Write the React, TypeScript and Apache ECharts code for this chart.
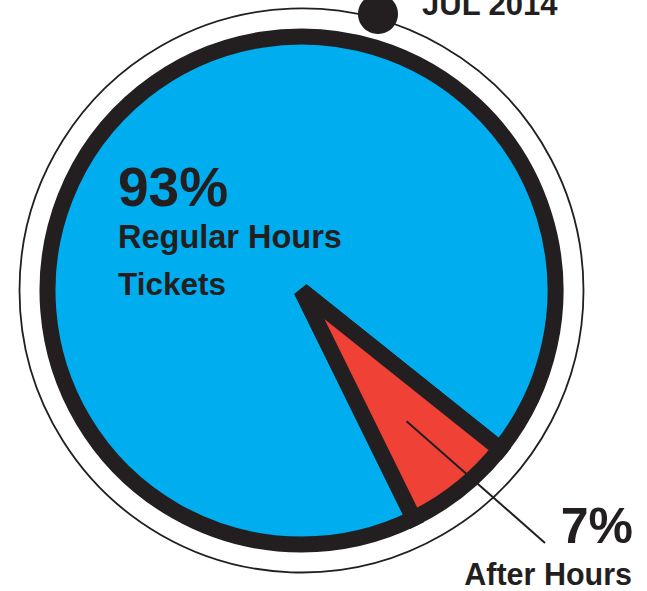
import React, { useEffect, useRef } from "react";
import * as echarts from "echarts";

const categories = ["Regular Hours Tickets", "After Hours"];
const values = [93, 7];
const sliceColors = ["#00ADEE", "#EF4136"];
const dateLabel = "JUL 2014";

const INK = "#231F20";
const FONT = "'Liberation Sans', Arial, sans-serif";

export default function App() {
  const ref = useRef<HTMLDivElement>(null);

  useEffect(() => {
    if (!ref.current) return;
    const chart = echarts.init(ref.current, null, { renderer: "svg" });
    const cx = 301.5;
    const cy = 290.5;
    const R = 254;
    const total = values.reduce((a, b) => a + b, 0);
    // small slice centred on a bisector ~51deg below east
    const bis = -51.2;
    const startAngle = bis - (values[1] / total) * 180;

    const midDeg = startAngle + (values[1] / total) * 180;
    const midRad = (midDeg * Math.PI) / 180;
    const lx1 = cx + Math.cos(midRad) * R * 0.66;
    const ly1 = cy - Math.sin(midRad) * R * 0.66;

    chart.setOption({
      animation: false,
      series: [
        {
          type: "pie",
          center: [cx, cy],
          radius: [0, R],
          startAngle,
          clockwise: true,
          silent: true,
          label: { show: false },
          labelLine: { show: false },
          emphasis: { disabled: true },
          itemStyle: {
            borderColor: INK,
            borderWidth: 16,
            borderJoin: "miter",
          },
          data: categories.map((name, i) => ({
            name,
            value: values[i],
            itemStyle: { color: sliceColors[i] },
          })),
        },
      ],
      graphic: [
        {
          type: "circle",
          shape: { cx, cy, r: 282 },
          style: { fill: "none", stroke: INK, lineWidth: 1.8 },
          z: 1,
        },
        {
          type: "circle",
          shape: { cx: 378, cy: 14, r: 20 },
          style: { fill: INK },
          z: 2,
        },
        {
          type: "text",
          x: 422,
          y: 4,
          style: {
            text: dateLabel,
            font: `bold 31px ${FONT}`,
            fill: INK,
            textAlign: "left",
            textVerticalAlign: "middle",
          },
        },
        {
          type: "text",
          x: 118,
          y: 187,
          z: 10,
          style: {
            text: `${values[0]}%`,
            font: `bold 55px ${FONT}`,
            fill: INK,
            textAlign: "left",
            textVerticalAlign: "middle",
          },
        },
        {
          type: "text",
          x: 118,
          y: 236.5,
          z: 10,
          style: {
            text: "Regular Hours",
            font: `bold 32.5px ${FONT}`,
            fill: INK,
            textAlign: "left",
            textVerticalAlign: "middle",
          },
        },
        {
          type: "text",
          x: 118,
          y: 283.5,
          z: 10,
          style: {
            text: "Tickets",
            font: `bold 31.5px ${FONT}`,
            fill: INK,
            textAlign: "left",
            textVerticalAlign: "middle",
          },
        },
        {
          type: "line",
          z: 10,
          shape: { x1: lx1, y1: ly1, x2: 545, y2: 543 },
          style: { stroke: INK, lineWidth: 2 },
        },
        {
          type: "text",
          x: 633,
          y: 525.5,
          z: 10,
          style: {
            text: `${values[1]}%`,
            font: `bold 50px ${FONT}`,
            fill: INK,
            textAlign: "right",
            textVerticalAlign: "middle",
          },
        },
        {
          type: "text",
          x: 632,
          y: 574,
          z: 10,
          style: {
            text: categories[1],
            font: `bold 30.5px ${FONT}`,
            fill: INK,
            textAlign: "right",
            textVerticalAlign: "middle",
          },
        },
      ],
    });
    return () => chart.dispose();
  }, []);

  return (
    <div
      ref={ref}
      style={{
        position: "fixed",
        left: 0,
        top: 0,
        width: 647,
        height: 591,
        background: "#ffffff",
      }}
    />
  );
}
